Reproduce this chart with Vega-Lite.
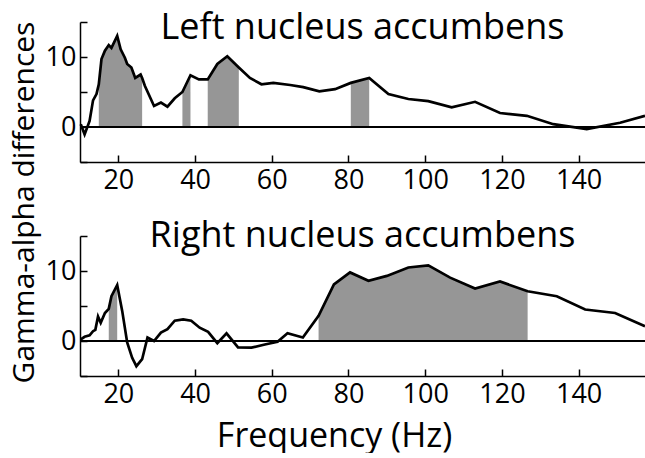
{
  "$schema": "https://vega.github.io/schema/vega-lite/v6.json",
  "padding": {"left": 8, "top": 10, "right": 0, "bottom": 0},
  "background": "white",
  "bounds": "flush",
  "spacing": 74,
  "config": {
    "view": {"stroke": null},
    "font": "Open Sans",
    "axis": {
      "grid": false,
      "domainColor": "black",
      "domainWidth": 1.5,
      "tickColor": "black",
      "tickWidth": 1.5,
      "tickSize": -7,
      "labelFont": "Open Sans",
      "labelFontSize": 27,
      "labelColor": "black",
      "titleFont": "Open Sans",
      "titleFontWeight": "normal",
      "titleColor": "black"
    },
    "axisX": {"labelPadding": 12},
    "axisY": {"labelPadding": 11},
    "title": {"font": "Open Sans", "fontSize": 36, "fontWeight": "normal", "color": "black", "anchor": "middle", "baseline": "alphabetic"}
  },
  "datasets": {
    "left": [
      {"f": 10.2, "v": 0.4},
      {"f": 11.2, "v": -1.05},
      {"f": 12.5, "v": 0.86},
      {"f": 13.4, "v": 3.8},
      {"f": 14.3, "v": 4.7},
      {"f": 14.9, "v": 6.1, "seg": "a"},
      {"f": 15.6, "v": 9.7, "seg": "a"},
      {"f": 16.5, "v": 10.9, "seg": "a"},
      {"f": 17.5, "v": 11.7, "seg": "a"},
      {"f": 18.2, "v": 11.3, "seg": "a"},
      {"f": 19.7, "v": 13.0, "seg": "a"},
      {"f": 20.6, "v": 11.1, "seg": "a"},
      {"f": 21.7, "v": 9.9, "seg": "a"},
      {"f": 22.3, "v": 9.0, "seg": "a"},
      {"f": 23.4, "v": 8.5, "seg": "a"},
      {"f": 24.4, "v": 7.0, "seg": "a"},
      {"f": 25.8, "v": 7.5, "seg": "a"},
      {"f": 26.2, "v": 7.0, "seg": "a"},
      {"f": 26.9, "v": 5.9},
      {"f": 29.3, "v": 3.0},
      {"f": 31.1, "v": 3.5},
      {"f": 32.8, "v": 2.9},
      {"f": 34.7, "v": 4.1},
      {"f": 36.7, "v": 5.0, "seg": "b"},
      {"f": 38.8, "v": 7.4, "seg": "b"},
      {"f": 41.0, "v": 6.8},
      {"f": 43.3, "v": 6.8, "seg": "c"},
      {"f": 45.8, "v": 9.0, "seg": "c"},
      {"f": 48.4, "v": 10.1, "seg": "c"},
      {"f": 51.4, "v": 8.5, "seg": "c"},
      {"f": 54.3, "v": 7.0},
      {"f": 57.3, "v": 6.1},
      {"f": 60.4, "v": 6.3},
      {"f": 64.8, "v": 6.0},
      {"f": 68.2, "v": 5.7},
      {"f": 72.4, "v": 5.1},
      {"f": 76.5, "v": 5.4},
      {"f": 80.6, "v": 6.3, "seg": "d"},
      {"f": 85.4, "v": 7.0, "seg": "d"},
      {"f": 90.4, "v": 4.7},
      {"f": 95.6, "v": 4.0},
      {"f": 100.8, "v": 3.7},
      {"f": 106.9, "v": 2.8},
      {"f": 113.0, "v": 3.6},
      {"f": 119.5, "v": 2.0},
      {"f": 126.5, "v": 1.6},
      {"f": 133.4, "v": 0.4},
      {"f": 142.1, "v": -0.3},
      {"f": 150.8, "v": 0.6},
      {"f": 157.3, "v": 1.6}
    ],
    "right": [
      {"f": 10.2, "v": 0.24},
      {"f": 11.2, "v": 0.6},
      {"f": 12.5, "v": 0.8},
      {"f": 13.4, "v": 1.4},
      {"f": 14.0, "v": 1.6},
      {"f": 14.7, "v": 3.5},
      {"f": 15.4, "v": 2.6},
      {"f": 16.5, "v": 4.0},
      {"f": 17.5, "v": 4.6, "seg": "a"},
      {"f": 18.2, "v": 6.4, "seg": "a"},
      {"f": 19.7, "v": 8.0, "seg": "a"},
      {"f": 21.0, "v": 4.3},
      {"f": 22.3, "v": -0.2},
      {"f": 23.6, "v": -2.4},
      {"f": 24.7, "v": -3.6},
      {"f": 26.2, "v": -2.6},
      {"f": 27.6, "v": 0.5},
      {"f": 29.3, "v": 0.0},
      {"f": 31.1, "v": 1.2},
      {"f": 32.8, "v": 1.7},
      {"f": 34.7, "v": 2.9},
      {"f": 36.9, "v": 3.1},
      {"f": 39.0, "v": 2.9},
      {"f": 41.2, "v": 1.9},
      {"f": 43.4, "v": 1.3},
      {"f": 45.8, "v": -0.3},
      {"f": 48.2, "v": 1.1},
      {"f": 51.2, "v": -0.9},
      {"f": 54.7, "v": -0.95},
      {"f": 58.2, "v": -0.5},
      {"f": 61.5, "v": -0.1},
      {"f": 64.1, "v": 1.1},
      {"f": 68.1, "v": 0.5},
      {"f": 72.2, "v": 3.6, "seg": "b"},
      {"f": 76.2, "v": 8.1, "seg": "b"},
      {"f": 80.4, "v": 9.8, "seg": "b"},
      {"f": 85.2, "v": 8.6, "seg": "b"},
      {"f": 90.0, "v": 9.3, "seg": "b"},
      {"f": 95.6, "v": 10.5, "seg": "b"},
      {"f": 100.8, "v": 10.8, "seg": "b"},
      {"f": 106.5, "v": 9.05, "seg": "b"},
      {"f": 113.0, "v": 7.5, "seg": "b"},
      {"f": 119.5, "v": 8.5, "seg": "b"},
      {"f": 126.7, "v": 7.1, "seg": "b"},
      {"f": 134.3, "v": 6.4},
      {"f": 141.7, "v": 4.5},
      {"f": 149.5, "v": 4.0},
      {"f": 157.3, "v": 2.1}
    ]
  },
  "vconcat": [
    {
      "width": 565,
      "height": 140,
      "title": {"text": "Left nucleus accumbens", "offset": -26},
      "data": {"name": "left"},
      "encoding": {
        "x": {"field": "f", "type": "quantitative", "scale": {"domain": [10, 157.3], "nice": false, "zero": false},
              "axis": {"values": [20, 40, 60, 80, 100, 120, 140], "title": null}},
        "y": {"field": "v", "type": "quantitative", "scale": {"domain": [-5, 15], "nice": false, "zero": false},
              "axis": {"values": [-5, 0, 5, 10, 15], "labelExpr": "datum.value == 0 || datum.value == 10 ? datum.label : ''",
                       "title": "Gamma-alpha differences", "titleFontSize": 30, "titleAngle": 270, "titleX": -47, "titleY": 180,
                       "titleBaseline": "alphabetic", "titleAlign": "center"}}
      },
      "layer": [
        {"transform": [{"filter": "datum.seg != null"}],
         "mark": {"type": "area", "color": "#969696", "opacity": 1},
         "encoding": {"y2": {"datum": 0}, "detail": {"field": "seg"}}},
        {"mark": {"type": "rule", "color": "black", "strokeWidth": 1.2},
         "encoding": {"x": {"datum": 10}, "x2": {"datum": 157.3}, "y": {"datum": 0}}},
        {"mark": {"type": "line", "color": "black", "strokeWidth": 2.7}}
      ]
    },
    {
      "width": 565,
      "height": 140,
      "title": {"text": "Right nucleus accumbens", "offset": -20},
      "data": {"name": "right"},
      "encoding": {
        "x": {"field": "f", "type": "quantitative", "scale": {"domain": [10, 157.3], "nice": false, "zero": false},
              "axis": {"values": [20, 40, 60, 80, 100, 120, 140], "title": "Frequency (Hz)", "titleFontSize": 34,
                       "titleX": 254, "titleY": 70, "titleBaseline": "alphabetic", "titleAlign": "center"}},
        "y": {"field": "v", "type": "quantitative", "scale": {"domain": [-5, 15], "nice": false, "zero": false},
              "axis": {"values": [-5, 0, 5, 10, 15], "labelExpr": "datum.value == 0 || datum.value == 10 ? datum.label : ''", "title": null}}
      },
      "layer": [
        {"transform": [{"filter": "datum.seg != null"}],
         "mark": {"type": "area", "color": "#969696", "opacity": 1},
         "encoding": {"y2": {"datum": 0}, "detail": {"field": "seg"}}},
        {"mark": {"type": "rule", "color": "black", "strokeWidth": 1.2},
         "encoding": {"x": {"datum": 10}, "x2": {"datum": 157.3}, "y": {"datum": 0}}},
        {"mark": {"type": "line", "color": "black", "strokeWidth": 2.7}}
      ]
    }
  ]
}
